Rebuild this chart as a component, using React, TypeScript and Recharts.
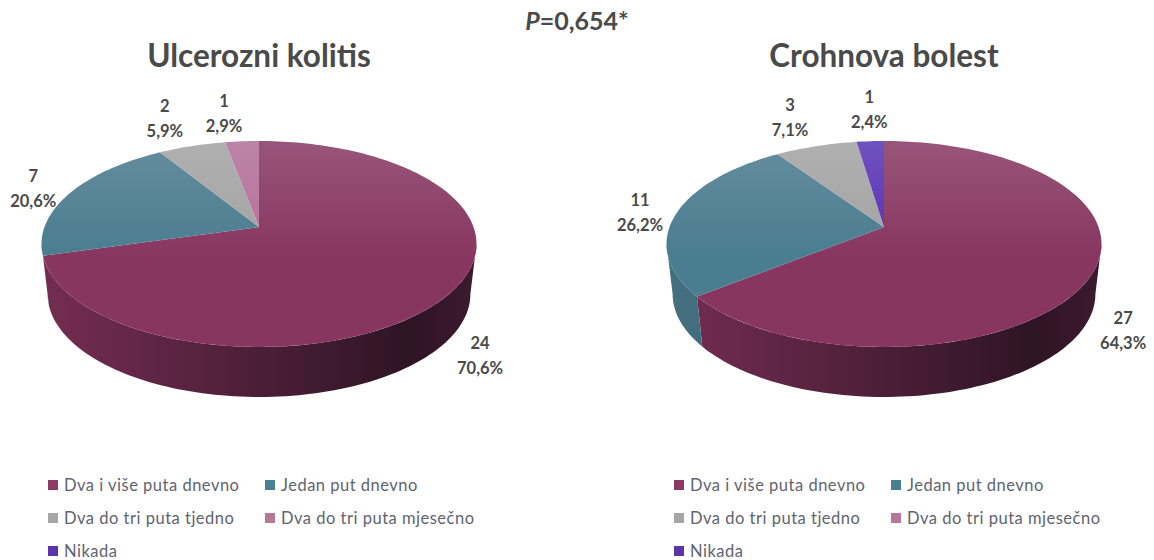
import { PieChart, Pie, Cell, Legend } from "recharts";

const categories = [
  "Dva i više puta dnevno",
  "Jedan put dnevno",
  "Dva do tri puta tjedno",
  "Dva do tri puta mjesečno",
  "Nikada",
];
const ulcerozniValues = [24, 7, 2, 1, 0];
const crohnValues = [27, 11, 3, 0, 1];

const topLight = ["#98557a", "#668c9f", "#b0b0b0", "#bb84a6", "#6e52c0"];
const topDark = ["#88365f", "#4a7d90", "#a2a2a2", "#b87199", "#5a2db0"];
const sideLeft = ["#752d52", "#44707f", "#7d7d7d", "#8c5675", "#45258a"];
const sideRight = ["#2e1425", "#2f4e5a", "#5a5a5a", "#663f56", "#331b66"];
const swatches = ["#8c3a63", "#4a7e91", "#a6a6a6", "#b6779b", "#5b33ab"];

// projection of the disc: flattening, perspective strength, wall height
const TILT = 0.467;
const PERSP = 0.165;
const DEPTH = 50;
const BOTTOM_SCALE = 0.972;
const textColor = "#4a4a4a";

const leftShift = [
  [31, 61],
  [-37, -5],
  [-27, -28],
  [-18, -28],
  [0, 0],
];
const rightShift = [
  [31, 56],
  [-37, 0],
  [-26, -29],
  [0, 0],
  [-1, -32],
];

// t = clockwise degrees from 12 o'clock on the disc
const project = (cx: number, cy: number, r: number, t: number) => {
  const a = (t * Math.PI) / 180;
  const d = 1 + PERSP * Math.cos(a);
  return [cx + (r * Math.sin(a)) / d, cy - (r * TILT * Math.cos(a)) / d];
};

const rimPoints = (cx: number, cy: number, r: number, t0: number, t1: number) => {
  const pts: number[][] = [];
  const steps = Math.max(2, Math.ceil((t1 - t0) / 1.5));
  for (let i = 0; i <= steps; i++) {
    pts.push(project(cx, cy, r, t0 + ((t1 - t0) * i) / steps));
  }
  return pts;
};

const toPath = (pts: number[][]) =>
  "M" + pts.map((p) => `${p[0].toFixed(2)},${p[1].toFixed(2)}`).join(" L") + " Z";

function TiltedSector(props: any) {
  const { cx, cy, outerRadius: r, startAngle, endAngle, index, chartId } = props;
  if (Math.abs(startAngle - endAngle) < 0.01) return null;
  const t0 = 90 - startAngle;
  const t1 = 90 - endAngle;
  const top = toPath([[cx, cy], ...rimPoints(cx, cy, r, t0, t1)]);

  // the rim shows a wall between the two silhouette points of the ellipse
  const silhouette = (Math.acos(-PERSP) * 180) / Math.PI;
  const w0 = Math.max(t0, silhouette);
  const w1 = Math.min(t1, 360 - silhouette);
  let wall = null;
  if (w1 > w0) {
    const upper = rimPoints(cx, cy, r, w0, w1);
    const lower = upper
      .map((p) => [cx + (p[0] - cx) * BOTTOM_SCALE, p[1] + DEPTH])
      .reverse();
    wall = toPath([...upper, ...lower]);
  }
  const rx = r * 1.014;
  const topId = `${chartId}-top-${index}`;
  const wallId = `${chartId}-wall-${index}`;
  return (
    <g>
      <defs>
        <linearGradient id={topId} gradientUnits="userSpaceOnUse" x1={cx} y1={cy - 86} x2={cx} y2={cy + 30}>
          <stop offset="0" stopColor={topLight[index]} />
          <stop offset="1" stopColor={topDark[index]} />
        </linearGradient>
        <linearGradient id={wallId} gradientUnits="userSpaceOnUse" x1={cx - rx} y1={cy} x2={cx + rx} y2={cy}>
          <stop offset="0" stopColor={sideLeft[index]} />
          <stop offset="0.85" stopColor={sideRight[index]} />
          <stop offset="1" stopColor={index === 0 ? "#3d1a30" : sideRight[index]} />
        </linearGradient>
      </defs>
      {wall && <path d={wall} fill={`url(#${wallId})`} />}
      <path d={top} fill={`url(#${topId})`} />
    </g>
  );
}

function SliceLabel(props: any, shifts: number[][]) {
  const { cx, cy, midAngle, outerRadius, value, percent, index } = props;
  if (!value) return null;
  const [x, y] = project(cx, cy, outerRadius, 90 - midAngle);
  const lx = x + shifts[index][0];
  const ly = y + shifts[index][1];
  const pct = (percent * 100).toFixed(1).replace(".", ",");
  return (
    <text
      key={index}
      x={lx}
      textAnchor="middle"
      fontFamily="Lato"
      fontSize={16.5}
      fontWeight={700}
      fill={textColor}
    >
      <tspan x={lx} y={ly - 6}>
        {value}
      </tspan>
      <tspan x={lx} y={ly + 19}>
        {pct}%
      </tspan>
    </text>
  );
}

function LegendBlock() {
  return (
    <div
      style={{
        display: "grid",
        gridTemplateColumns: "217px 1fr",
        fontFamily: "Lato",
        fontSize: 16.5,
        letterSpacing: 0.5,
        color: "#5f6470",
      }}
    >
      {categories.map((name, i) => (
        <div key={name} style={{ display: "flex", alignItems: "center", height: 33 }}>
          <span
            style={{ width: 10, height: 10, background: swatches[i], marginRight: 6, flexShrink: 0 }}
          />
          {name}
        </div>
      ))}
    </div>
  );
}

interface PanelProps {
  id: string;
  title: string;
  values: number[];
  left: number;
  cx: number;
  shifts: number[][];
  legendX: number;
}

function Panel({ id, title, values, left, cx, shifts, legendX }: PanelProps) {
  const data = categories.map((name, i) => ({ name, value: values[i] }));
  return (
    <div style={{ position: "absolute", left, top: 0, width: 577, height: 560 }}>
      <PieChart width={577} height={560} margin={{ top: 0, right: 0, bottom: 0, left: 0 }}>
        <text
          x={cx}
          y={67}
          textAnchor="middle"
          fontFamily="Lato"
          fontSize={31.5}
          fontWeight={700}
          fill={textColor}
        >
          {title}
        </text>
        <Pie
          data={data}
          dataKey="value"
          nameKey="name"
          cx={cx}
          cy={227}
          innerRadius={0}
          outerRadius={214.5}
          startAngle={90}
          endAngle={-270}
          paddingAngle={0}
          stroke="none"
          isAnimationActive={false}
          labelLine={false}
          label={(p: any) => SliceLabel(p, shifts)}
          shape={(p: any) => <TiltedSector {...p} chartId={id} />}
        >
          {data.map((d, i) => (
            <Cell key={d.name} fill={swatches[i]} />
          ))}
        </Pie>
        <Legend
          content={() => <LegendBlock />}
          wrapperStyle={{ position: "absolute", left: legendX, top: 468, width: 480 }}
        />
      </PieChart>
    </div>
  );
}

export default function App() {
  return (
    <div
      style={{
        position: "absolute",
        left: 0,
        top: 0,
        width: 1154,
        height: 560,
        overflow: "hidden",
        background: "#fff",
      }}
    >
      <Panel
        id="uc"
        title="Ulcerozni kolitis"
        values={ulcerozniValues}
        left={0}
        cx={259}
        shifts={leftShift}
        legendX={48}
      />
      <Panel
        id="cb"
        title="Crohnova bolest"
        values={crohnValues}
        left={577}
        cx={307}
        shifts={rightShift}
        legendX={97}
      />
      <div
        style={{
          position: "absolute",
          left: 0,
          width: 1154,
          top: 5,
          textAlign: "center",
          fontFamily: "Lato",
          fontSize: 25,
          fontWeight: 700,
          color: textColor,
        }}
      >
        <i>P</i>=0,654*
      </div>
    </div>
  );
}
